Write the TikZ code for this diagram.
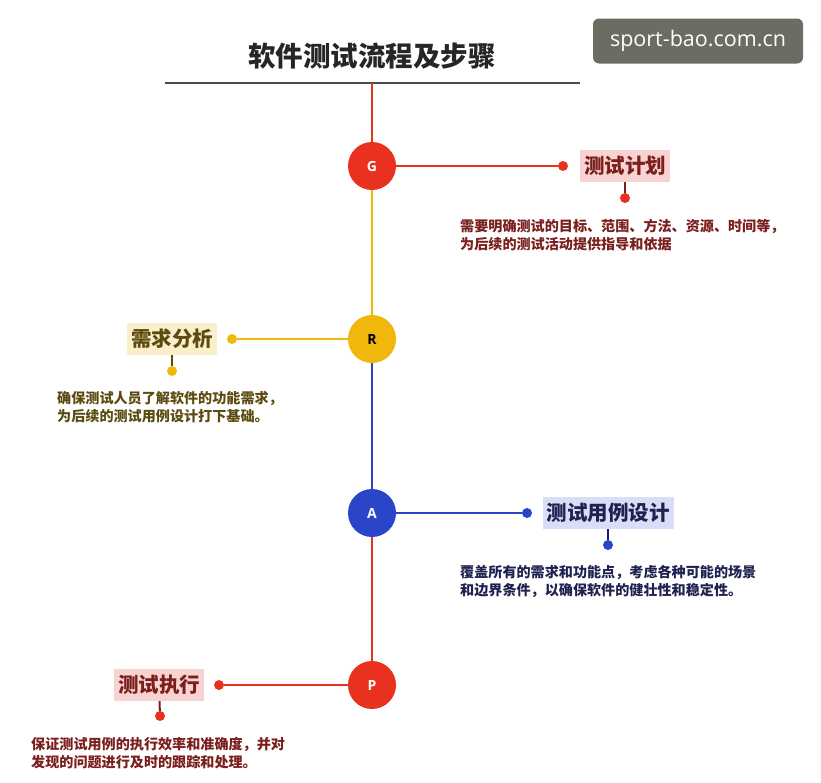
\documentclass[tikz,border=0pt]{standalone}
\usepackage{fontspec}
\setmainfont{Noto Sans CJK SC}
\newfontfamily\latinsans{Open Sans}
\usetikzlibrary{positioning}

\definecolor{stepred}{HTML}{E8321F}
\definecolor{stepyellow}{HTML}{F0B70C}
\definecolor{stepblue}{HTML}{2A45C8}
\definecolor{txtred}{HTML}{7A1E1E}
\definecolor{txtolive}{HTML}{5C4B10}
\definecolor{txtnavy}{HTML}{1F2250}
\definecolor{tagpink}{HTML}{F7D4D1}
\definecolor{tagyellow}{HTML}{F9EFCB}
\definecolor{taglav}{HTML}{DADDF6}
\definecolor{markgray}{HTML}{6A6D62}

\begin{document}
\begin{tikzpicture}[
        x=1pt, y=-1pt,
        stepdot/.style={circle, fill=#1, minimum size=48pt, inner sep=0pt, text=white,
            font=\latinsans\bfseries\fontsize{14}{14}\selectfont},
        enddot/.style={circle, fill=#1, minimum size=10pt, inner sep=0pt},
        tagbox/.style={rectangle, fill=#1, inner sep=4pt, minimum height=32pt,
            font=\bfseries\fontsize{20.5}{21}\selectfont},
        desc/.style={anchor=north west, align=left, inner sep=0pt,
            font=\bfseries\fontsize{14.1}{18}\selectfont},
        link/.style={line width=2.8pt, draw=#1},
        stem/.style={line width=2pt, draw=#1}
    ]
        \fill[white] (0,0) rectangle (821,782);

        % Title
        \node[font=\bfseries\fontsize{27.5}{28}\selectfont, text=black!85] (title) at (372,56) {软件测试流程及步骤};
        \coordinate (rl) at (165,83);
        \coordinate (rr) at (580,83);
        \coordinate (top) at (372,83);
        \node[rectangle, rounded corners=6pt, fill=markgray, text=white, minimum width=210pt,
            minimum height=45pt, font=\latinsans\fontsize{21.5}{22}\selectfont] (mark) at (698,41) {sport-bao.com.cn};

        % Nodes
        \node[stepdot=stepred] (cG) at (372,166) {G};
        \node[stepdot=stepyellow, text=black] (cR) at (372,339) {R};
        \node[stepdot=stepblue] (cA) at (372,513) {A};
        \node[stepdot=stepred] (cP) at (372,685) {P};

        \node[enddot=stepred] (dG) at (563,166) {};
        \node[tagbox=tagpink, text=txtred] (tG) at (625,166) {测试计划};
        \node[enddot=stepred] (sG) at (625,198) {};
        \node[desc, text=txtred] (xG) at (460,219) {需要明确测试的目标、范围、方法、资源、时间等，\\为后续的测试活动提供指导和依据};

        \node[enddot=stepyellow] (dR) at (232,339) {};
        \node[tagbox=tagyellow, text=txtolive] (tR) at (172,339) {需求分析};
        \node[enddot=stepyellow] (sR) at (172,371) {};
        \node[desc, text=txtolive] (xR) at (57,391) {确保测试人员了解软件的功能需求，\\为后续的测试用例设计打下基础。};

        \node[enddot=stepblue] (dA) at (527,513) {};
        \node[tagbox=taglav, text=txtnavy] (tA) at (608,513) {测试用例设计};
        \node[enddot=stepblue] (sA) at (608,545) {};
        \node[desc, text=txtnavy] (xA) at (460,565) {覆盖所有的需求和功能点，考虑各种可能的场景\\和边界条件，以确保软件的健壮性和稳定性。};

        \node[enddot=stepred] (dP) at (219,685) {};
        \node[tagbox=tagpink, text=txtred] (tP) at (159,685) {测试执行};
        \node[enddot=stepred] (sP) at (160,716) {};
        \node[desc, text=txtred] (xP) at (31,737) {保证测试用例的执行效率和准确度，并对\\发现的问题进行及时的跟踪和处理。};

        % Lines
        \draw[line width=1.6pt, draw=black!70] (rl) -- (rr);
        \draw[link=stepred] (top) -- (cG);
        \draw[link=stepyellow] (cG) -- (cR);
        \draw[link=stepblue] (cR) -- (cA);
        \draw[link=stepred] (cA) -- (cP);
        \draw[link=stepred] (cG) -- (dG);
        \draw[link=stepyellow] (cR) -- (dR);
        \draw[link=stepblue] (cA) -- (dA);
        \draw[link=stepred] (cP) -- (dP);
        \draw[stem=txtred] (tG) -- (sG);
        \draw[stem=txtolive] (tR) -- (sR);
        \draw[stem=txtnavy] (tA) -- (sA);
        \draw[stem=txtred] (tP) -- (sP);
    \end{tikzpicture}
\end{document}
